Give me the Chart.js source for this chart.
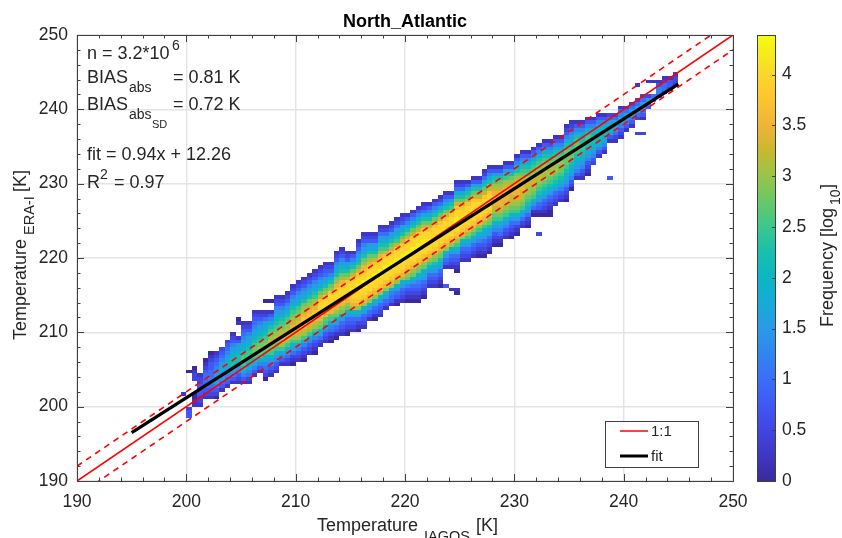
<!DOCTYPE html>
<html>
<head>
<meta charset="utf-8">
<title>North_Atlantic</title>
<script src="https://cdn.jsdelivr.net/npm/chart.js@4"></script>
<style>
  html, body { margin: 0; padding: 0; background: #fff; }
  #wrap { position: relative; width: 842px; height: 538px; overflow: hidden; }
  #mainChart { position: absolute; left: 0; top: 0; }
  #barChart { position: absolute; left: 757px; top: 0; }
</style>
</head>
<body>
<div id="wrap">
  <canvas id="mainChart" width="842" height="538"></canvas>
  <canvas id="barChart" width="85" height="538"></canvas>
</div>
<script>
// 2d histogram, one string per 0.5 K column of IAGOS temperature.
// columnStart = row of the first char (row r is 190 + r * 0.5 K ERA-I)
// each char = log10 frequency in steps of 0.25, '.' = empty bin
const firstColumnTemp = 199.5;
const binSize = 0.5;
const levelStep = 0.25;

const columnStart = [
  23, 17, 20, 20, 22, 22, 22, 24, 25, 26, 26, 26, 26, 28, 29, 27, 28, 29, 31, 31,
  31, 32, 32, 34, 34, 36, 37, 37, 38, 39, 39, 40, 40, 41, 43, 43, 44, 46, 47, 47,
  48, 48, 48, 48, 49, 52, 52, 52, 52, 51, 50, 59, 59, 60, 60, 60, 61, 63, 63, 65,
  65, 66, 68, 68, 71, 66, 71, 71, 74, 75, 75, 78, 81, 81, 82, 85, 87, 88, 81, 91,
  92, 94, 95, 93, 93, 100, 102, 103, 104, 105, 106
];

const columnLevels = [
  "1", "332.........0", "1100...2210", "122333221", "12344443210", "1234554433210", "0235666554321",
  "134667765432", "1345778765432", "13568998765321", "1235689987631...10",
  "13579aba987654321", "1245789ba98765321", "13579abba987654321", "1357abcba98765321",
  "0234578abcba9876421..0", "123568abcdcba97531..0", "123568abcdcba98765321",
  "1357acdedcba9765321", "12468acdedcba9865321", "012468acdeedcba9765321",
  "12357acdefedcba8765321", "012357acdeffedcb9765321", "12357acdeffedcb9765321",
  "012358acdeffedca9765321", "12468bcefgggfdb9765321", "12357abefgggfcb9764321",
  "012457abefgggfcb975321", "013468bcefgggfecb9765321", "123468bcefgggfecb9865321",
  "0123468bcefgggfdb976321", "123468cefgghggfdb97531", "012468cefgghhggfdb9765321",
  "123468cefgghhggfecb9765321", "13468cefgghhggfecb976321", "013468cefgghhggfdb976321",
  "123468cefgghhggfeca976421", "13468cefgghhggfda976421", "13457cefgghhggfdb976321",
  "013468cefgghhggfda976421", "123468cefgghhggfdb976321", "012357bcefgghhggfdb97531",
  "0123468bcefgghhggfdb97531", "01234578bcefgghhggfdb97531", "01234678bcefgghhggfdb97421",
  "123468acefgghggfdb97531", "1234679bcefgghggfdb97531", "01234679bcefgghggfdb97421",
  "3....13468cefgghggfdb97531", "1.....123468cefgghggfda9631", "01....0123468acefgghhggfdb97421",
  "123468cefgghggfdb97421", "123468acefgghggfda9631", "123468acefgghggfdb9631",
  "0123568acefggggfdb9631", "01234678acefggggfdb97421", "01234679bcefggggfdb97531",
  "0123568abcdeefedca9631", "0124568abcdeefedcb9631", "123568abcdeefedca9631",
  "0123468abcddeedcb9631", "012468abcddeeedcb97531", "12468abcddeedcba97531",
  "0124679abccddcba97531", "01468abccddcba97531", "2....0134679abcddcba97531",
  "01234689abccdcba97531", "001234689abccdba97531", "1234689abccdba97531",
  "1235689abbcba97531", "012356789abbcba975321", "02356789abba9865321",
  "1356789abba97531", "12356789aa987531", "012356789aa97531", "2356789987531",
  "135789987531", "13578987531", "3.........13788642", "12467742",
  "123577541", "1357742", "1357642", "2...246642...1", "2...1356642",
  "3662...1", "54...1", "35531", "24421", "2331", "1221"
];

const levelColors = [
  "#3a2a9d", "#3f36c4", "#4046e0", "#4058f5", "#3a6ef8", "#3085f0", "#2a9ae6", "#16aad8", "#0cb6c4",
  "#18bfae", "#3cc78c", "#68c868", "#98c44a", "#c8b82e", "#f0b33a", "#fdc42e", "#fcd62a", "#f5ef18"
];
const colorbarTop = 4.39;
const colorbarTopColor = "#f9fb15";

const lineX = [190, 250];
const oneToOne = [190, 250];
const upperBound = [192, 252];
const lowerBound = [188, 248];
const fitX = [195, 245];
const fitY = [196.5, 243.4];

const axisMin = 190;
const axisMax = 250;
const axisStep = 10;
const minorStep = 2;
const colorbarStep = 0.5;

const FONT = '"Liberation Sans", Arial, sans-serif';
const INK = '#262626';
const EDGE = '#404040';

// unpack the strings in to points
const heatPoints = [];
columnLevels.forEach((text, col) => {
  const x = firstColumnTemp + col * binSize;
  [...text].forEach((ch, i) => {
    if (ch === '.') return;
    const level = parseInt(ch, 18);
    heatPoints.push({ x: x, y: axisMin + (columnStart[col] + i) * binSize, v: level * levelStep, c: levelColors[level] });
  });
});

function pairs(xs, ys) {
  return xs.map((x, i) => ({ x: x, y: ys[i] }));
}

// write a run of text pieces: [text, x, y, size]
function writeText(ctx, pieces) {
  ctx.fillStyle = INK;
  ctx.textAlign = 'left';
  ctx.textBaseline = 'alphabetic';
  pieces.forEach(p => {
    ctx.font = p[3] + 'px ' + FONT;
    ctx.fillText(p[0], p[1], p[2]);
  });
}

const heatPlugin = {
  id: 'heatCells',
  beforeDatasetsDraw(chart) {
    const ctx = chart.ctx;
    const xs = chart.scales.x;
    const ys = chart.scales.y;
    ctx.save();
    heatPoints.forEach(p => {
      const x0 = Math.round(xs.getPixelForValue(p.x));
      const x1 = Math.round(xs.getPixelForValue(p.x + binSize));
      const y0 = Math.round(ys.getPixelForValue(p.y + binSize));
      const y1 = Math.round(ys.getPixelForValue(p.y));
      ctx.fillStyle = p.c;
      ctx.fillRect(x0, y0, x1 - x0, y1 - y0);
    });
    ctx.restore();
  }
};

const framePlugin = {
  id: 'frameAndText',
  afterDraw(chart) {
    const ctx = chart.ctx;
    const a = chart.chartArea;
    const xs = chart.scales.x;
    const ys = chart.scales.y;
    ctx.save();
    ctx.strokeStyle = EDGE;
    ctx.lineWidth = 1;

    // inward ticks on all four sides, MATLAB style
    ctx.beginPath();
    for (let v = axisMin; v <= axisMax; v += minorStep) {
      const len = v % axisStep === 0 ? 7 : 3.5;
      const px = Math.round(xs.getPixelForValue(v)) + 0.5;
      const py = Math.round(ys.getPixelForValue(v)) + 0.5;
      ctx.moveTo(px, a.bottom); ctx.lineTo(px, a.bottom - len);
      ctx.moveTo(px, a.top); ctx.lineTo(px, a.top + len);
      ctx.moveTo(a.left, py); ctx.lineTo(a.left + len, py);
      ctx.moveTo(a.right, py); ctx.lineTo(a.right - len, py);
    }
    ctx.stroke();
    ctx.strokeRect(a.left + 0.5, a.top + 0.5, a.right - a.left, a.bottom - a.top);

    // stats block
    writeText(ctx, [
      ['n = 3.2*10', 87, 59, 18], ['6', 172, 50, 14],
      ['BIAS', 87, 83, 18], ['abs', 129, 92, 14], ['= 0.81 K', 173, 83, 18],
      ['BIAS', 87, 110, 18], ['abs', 129, 119, 14], ['SD', 152, 128, 11], ['= 0.72 K', 173, 110, 18],
      ['fit = 0.94x + 12.26', 87, 160, 18],
      ['R', 87, 188, 18], ['2', 100, 179, 14], ['= 0.97', 114, 188, 18]
    ]);

    // x axis title
    writeText(ctx, [['Temperature', 317, 531, 18], ['IAGOS', 424, 541, 14.5], ['[K]', 476, 531, 18]]);

    // y axis title
    ctx.save();
    ctx.translate(26, 340);
    ctx.rotate(-Math.PI / 2);
    writeText(ctx, [['Temperature', 0, 0, 18], ['ERA-I', 105, 8, 14.5], ['[K]', 148, 0, 18]]);
    ctx.restore();

    // legend box
    ctx.fillStyle = '#fff';
    ctx.fillRect(605, 421, 93, 46);
    ctx.strokeStyle = EDGE;
    ctx.strokeRect(605.5, 421.5, 93, 46);
    ctx.strokeStyle = '#ff0000';
    ctx.lineWidth = 1.5;
    ctx.beginPath(); ctx.moveTo(620, 431); ctx.lineTo(648, 431); ctx.stroke();
    ctx.strokeStyle = '#000';
    ctx.lineWidth = 3;
    ctx.beginPath(); ctx.moveTo(620, 456); ctx.lineTo(648, 456); ctx.stroke();
    writeText(ctx, [['1:1', 651, 436, 15], ['fit', 651, 461, 15]]);
    ctx.restore();
  }
};

new Chart(document.getElementById('mainChart'), {
  type: 'scatter',
  data: {
    datasets: [
      { label: 'fit', data: pairs(fitX, fitY), showLine: true, borderColor: '#000', borderWidth: 3.2, pointRadius: 0 },
      { label: '1:1', data: pairs(lineX, oneToOne), showLine: true, borderColor: '#ff0000', borderWidth: 1.6, pointRadius: 0 },
      { label: '+2 K', data: pairs(lineX, upperBound), showLine: true, borderColor: '#ff0000', borderWidth: 1.6, borderDash: [6, 5], pointRadius: 0 },
      { label: '-2 K', data: pairs(lineX, lowerBound), showLine: true, borderColor: '#ff0000', borderWidth: 1.6, borderDash: [6, 5], pointRadius: 0 }
    ]
  },
  options: {
    responsive: false,
    animation: false,
    layout: { padding: { right: 109, left: 0, top: 0, bottom: 0 } },
    plugins: {
      legend: { display: false },
      tooltip: { enabled: false },
      title: {
        display: true,
        fullSize: false,
        text: 'North_Atlantic',
        color: '#000',
        font: { family: FONT, size: 18, weight: 'bold' },
        padding: { top: 11, bottom: 2.4 }
      }
    },
    scales: {
      x: {
        type: 'linear', min: axisMin, max: axisMax,
        afterFit(scale) { scale.height = 57; },
        border: { display: false },
        grid: { color: '#e4e4e4', lineWidth: 1.4, drawTicks: false },
        ticks: { stepSize: axisStep, color: INK, padding: 11, maxRotation: 0, font: { family: FONT, size: 17.5 } }
      },
      y: {
        type: 'linear', min: axisMin, max: axisMax,
        afterFit(scale) { scale.width = 77; },
        border: { display: false },
        grid: { color: '#e4e4e4', lineWidth: 1.4, drawTicks: false },
        ticks: { stepSize: axisStep, color: INK, padding: 9, font: { family: FONT, size: 17.5 } }
      }
    }
  },
  plugins: [heatPlugin, framePlugin]
});

// colorbar, its own little chart so the scale ticks stay real
const barFramePlugin = {
  id: 'barFrame',
  afterDraw(chart) {
    const ctx = chart.ctx;
    const a = chart.chartArea;
    const ys = chart.scales.y;
    ctx.save();
    ctx.strokeStyle = EDGE;
    ctx.lineWidth = 1;
    ctx.beginPath();
    for (let v = 0; v < colorbarTop; v += colorbarStep) {
      const py = Math.round(ys.getPixelForValue(v)) + 0.5;
      ctx.moveTo(a.right, py);
      ctx.lineTo(a.right - 4, py);
    }
    ctx.stroke();
    ctx.strokeRect(a.left + 0.5, a.top + 0.5, a.right - a.left - 1, a.bottom - a.top);
    ctx.translate(76, 327);
    ctx.rotate(-Math.PI / 2);
    writeText(ctx, [['Frequency [log', 0, 0, 18], ['10', 122, 7, 14], [']', 138, 0, 18]]);
    ctx.restore();
  }
};

function barGradient(context) {
  const a = context.chart.chartArea;
  if (!a) return levelColors[0];
  const g = context.chart.ctx.createLinearGradient(0, a.bottom, 0, a.top);
  levelColors.forEach((c, i) => g.addColorStop(i * levelStep / colorbarTop, c));
  g.addColorStop(1, colorbarTopColor);
  return g;
}

new Chart(document.getElementById('barChart'), {
  type: 'bar',
  data: {
    labels: ['Frequency'],
    datasets: [{ data: [[0, colorbarTop]], backgroundColor: barGradient, barPercentage: 1, categoryPercentage: 1 }]
  },
  options: {
    responsive: false,
    animation: false,
    layout: { padding: { top: 35, bottom: 57, left: 0, right: 0 } },
    plugins: { legend: { display: false }, tooltip: { enabled: false } },
    scales: {
      x: { display: false },
      y: {
        position: 'right', min: 0, max: colorbarTop,
        afterFit(scale) { scale.width = 66; },
        border: { display: false },
        grid: { display: false, drawTicks: false },
        ticks: {
          stepSize: colorbarStep, includeBounds: false, color: INK, padding: 6,
          font: { family: FONT, size: 17.5 },
          callback: v => String(v)
        }
      }
    }
  },
  plugins: [barFramePlugin]
});
</script>
</body>
</html>
